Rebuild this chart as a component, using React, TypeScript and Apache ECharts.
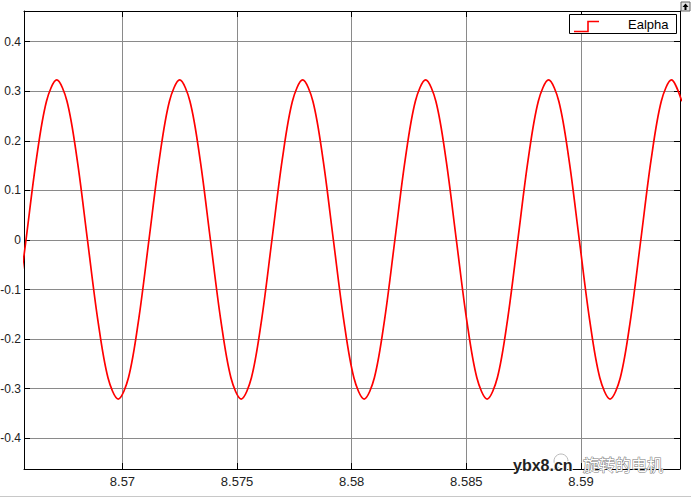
import React, { useEffect, useRef } from "react";
import * as echarts from "echarts";

// Axis limits and ticks
const X_MIN = 8.565706;
const X_MAX = 8.59432;
const Y_MIN = -0.462;
const Y_MAX = 0.462;
const xTicks = [8.57, 8.575, 8.58, 8.585, 8.59];
const yTicks = [-0.4, -0.3, -0.2, -0.1, 0, 0.1, 0.2, 0.3, 0.4];

// Signal samples (time in s, Ealpha value)
const times = [
  8.565346, 8.565793, 8.56624, 8.566687, 8.567134, 8.567581, 8.568028, 8.568475, 8.568922, 8.569369,
  8.569816, 8.570262, 8.570709, 8.571156, 8.571603, 8.57205, 8.572497, 8.572944, 8.573391, 8.573838,
  8.574285, 8.574732, 8.575179, 8.575626, 8.576073, 8.57652, 8.576967, 8.577414, 8.57786, 8.578307,
  8.578754, 8.579201, 8.579648, 8.580095, 8.580542, 8.580989, 8.581436, 8.581883, 8.58233, 8.582777,
  8.583224, 8.583671, 8.584118, 8.584565, 8.585012, 8.585459, 8.585906, 8.586353, 8.5868, 8.587246,
  8.587693, 8.58814, 8.588587, 8.589034, 8.589481, 8.589928, 8.590375, 8.590822, 8.591269, 8.591716,
  8.592163, 8.59261, 8.593057, 8.593504, 8.59395, 8.594397,
];
const ealpha = [
  -0.16,
  0, 0.161, 0.28, 0.323, 0.28, 0.161, 0, -0.16, -0.278, -0.321, -0.278, -0.16,
  0, 0.161, 0.28, 0.323, 0.28, 0.161, 0, -0.16, -0.278, -0.321, -0.278, -0.16,
  0, 0.161, 0.28, 0.323, 0.28, 0.161, 0, -0.16, -0.278, -0.321, -0.278, -0.16,
  0, 0.161, 0.28, 0.323, 0.28, 0.161, 0, -0.16, -0.278, -0.321, -0.278, -0.16,
  0, 0.161, 0.28, 0.323, 0.28, 0.161, 0, -0.16, -0.278, -0.321, -0.278, -0.16,
  0, 0.161, 0.28, 0.323, 0.28,
];
const seriesName = "Ealpha";

const FONT = "'Liberation Sans', Arial, sans-serif";
const fmt = (v: number) => String(+Number(v).toFixed(4));

export default function App() {
  const ref = useRef<HTMLDivElement>(null);
  useEffect(() => {
    if (!ref.current) return;
    const chart = echarts.init(ref.current, undefined, { renderer: "svg" });
    const axisLine = { show: true, onZero: false, lineStyle: { color: "#000", width: 1 } };
    const gridLine = { show: true, lineStyle: { color: "#8a8a8a", width: 1, type: "solid" } };
    chart.setOption({
      animation: false,
      backgroundColor: "#fff",
      grid: { left: 24, right: 11, top: 11, bottom: 28, show: false, containLabel: false, outerBoundsMode: "none" },
      xAxis: [
        {
          type: "value",
          position: "bottom",
          min: X_MIN,
          max: X_MAX,
          axisLine,
          axisTick: { show: true, inside: true, length: 6, customValues: xTicks, lineStyle: { color: "#000" } },
          axisLabel: { customValues: xTicks, margin: 6, fontSize: 13, color: "#222", fontFamily: FONT, formatter: fmt },
          splitLine: gridLine,
        },
        {
          type: "value",
          position: "top",
          min: X_MIN,
          max: X_MAX,
          axisLine,
          axisTick: { show: true, inside: true, length: 6, customValues: xTicks, lineStyle: { color: "#000" } },
          axisLabel: { show: false },
          splitLine: { show: false },
        },
      ],
      yAxis: [
        {
          type: "value",
          position: "left",
          min: Y_MIN,
          max: Y_MAX,
          axisLine,
          axisTick: { show: true, inside: true, length: 6, customValues: yTicks, lineStyle: { color: "#000" } },
          axisLabel: { customValues: yTicks, margin: 3, fontSize: 12, color: "#222", fontFamily: FONT, formatter: fmt },
          splitLine: gridLine,
        },
        {
          type: "value",
          position: "right",
          min: Y_MIN,
          max: Y_MAX,
          axisLine,
          axisTick: { show: true, inside: true, length: 6, customValues: yTicks, lineStyle: { color: "#000" } },
          axisLabel: { show: false },
          splitLine: { show: false },
        },
      ],
      series: [
        {
          name: seriesName,
          type: "line",
          xAxisIndex: 0,
          yAxisIndex: 0,
          data: times.map((t, i) => [t, ealpha[i]]),
          smooth: 0.33,
          showSymbol: false,
          clip: true,
          lineStyle: { color: "#ff0000", width: 1.7 },
          z: 5,
        },
      ],
      graphic: [
        // legend box
        { type: "rect", shape: { x: 569.5, y: 14.5, width: 107, height: 19 }, style: { fill: "#fff", stroke: "#000", lineWidth: 1 }, z: 10 },
        { type: "polyline", shape: { points: [[574, 31.5], [588, 31.5], [588, 21.5], [599, 21.5]] }, style: { stroke: "#ff0000", lineWidth: 1.6, fill: "none" }, z: 11 },
        { type: "text", x: 628, y: 24.5, style: { text: seriesName, font: `13px ${FONT}`, fill: "#000", verticalAlign: "middle" }, z: 11 },
        // top-right button
        { type: "rect", shape: { x: 681, y: 2, width: 9, height: 9 }, style: { fill: "#e4e4e4", stroke: "#666", lineWidth: 1 }, z: 10 },
        { type: "polygon", shape: { points: [[685.5, 3.5], [682.5, 7], [684.5, 7], [684.5, 10], [686.5, 10], [686.5, 7], [688.5, 7]] }, style: { fill: "#000" }, z: 11 },
        // bottom border line
        { type: "line", shape: { x1: 0, y1: 496.5, x2: 691, y2: 496.5 }, style: { stroke: "#c8c8c8", lineWidth: 1 }, z: 10 },
        // watermark
        { type: "circle", shape: { cx: 561, cy: 461, r: 7 }, style: { fill: "rgba(255,255,255,0.6)", stroke: "#bbb", lineWidth: 1 }, z: 12 },
        { type: "text", x: 513, y: 465, style: { text: "ybx8.cn", font: `bold 16px ${FONT}`, fill: "#222", stroke: "#fff", lineWidth: 2, verticalAlign: "middle" }, z: 13 },
        { type: "text", x: 583, y: 464, style: { text: "旋转的电机", font: "16px 'Noto Sans CJK SC', sans-serif", fill: "#fff", stroke: "#777", lineWidth: 1, verticalAlign: "middle" }, z: 13 },
      ],
    });
    return () => chart.dispose();
  }, []);
  return <div ref={ref} style={{ position: "fixed", left: 0, top: 0, width: 691, height: 497 }} />;
}
